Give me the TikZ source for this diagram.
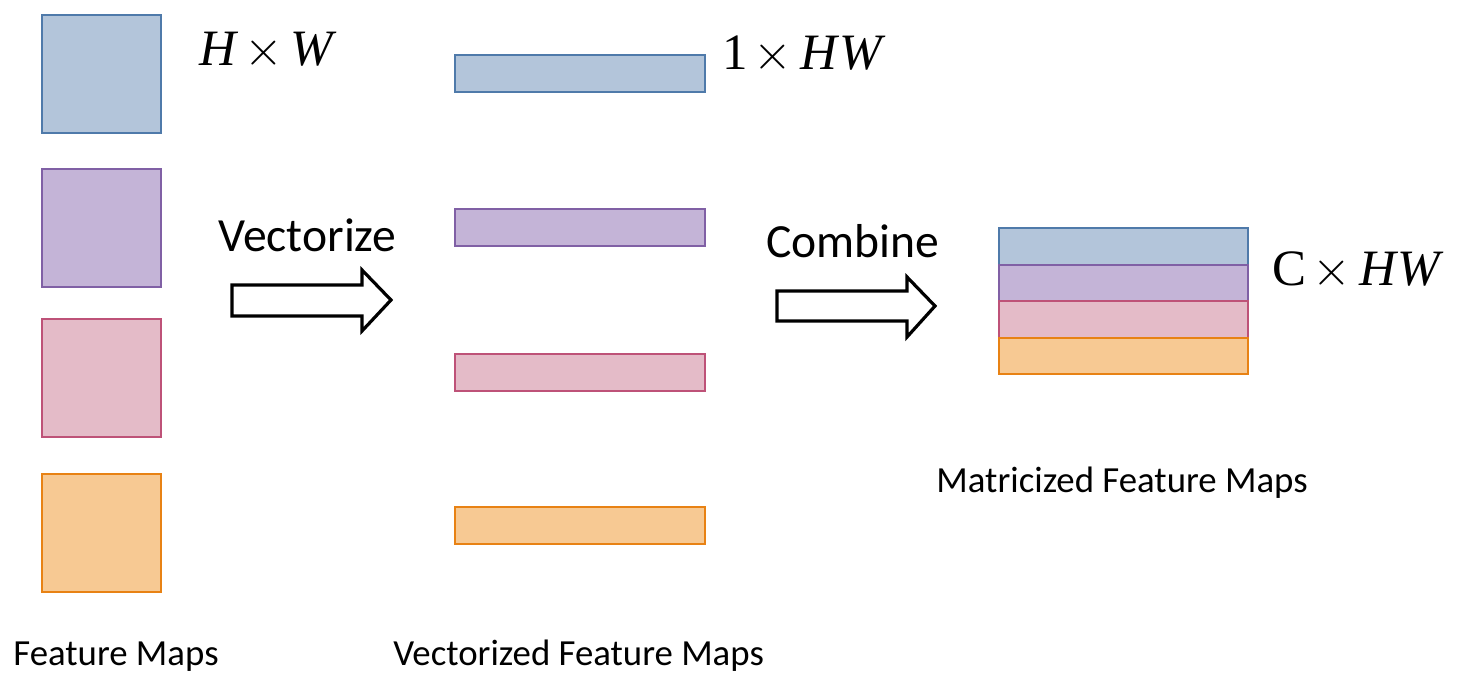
\documentclass[tikz,border=0pt]{standalone}
\usepackage{fontspec}
\setmainfont{Carlito}
\newfontfamily\tms{Liberation Serif}
\newcommand{\tx}{\ensuremath{\times}}
\begin{document}
\begin{tikzpicture}[x=0.5pt,y=-0.5pt,
  bx/.style 2 args={draw=#1, fill=#2, line width=1pt, inner sep=0pt, rectangle},
  sq/.style={minimum width=59.5pt, minimum height=59pt},
  bar/.style={minimum width=125pt, minimum height=18.5pt},
  row/.style={minimum width=124.5pt, minimum height=18.25pt},
  lbl/.style={inner sep=0pt, anchor=base west, font=\fontsize{18.4pt}{20pt}\selectfont},
  big/.style={inner sep=0pt, anchor=base west, font=\fontsize{23.8pt}{26pt}\selectfont},
  mth/.style={inner sep=0pt, anchor=base west, font=\fontsize{25.5pt}{28pt}\selectfont\tms},
  fat/.style={draw=black, fill=white, line width=1.6pt, line join=miter}]
\definecolor{bF}{RGB}{179,197,218}\definecolor{bD}{RGB}{79,122,170}
\definecolor{pF}{RGB}{196,180,215}\definecolor{pD}{RGB}{128,96,165}
\definecolor{rF}{RGB}{228,187,200}\definecolor{rD}{RGB}{190,82,120}
\definecolor{oF}{RGB}{247,201,147}\definecolor{oD}{RGB}{232,130,20}
\useasboundingbox (0,0) rectangle (1459,674);
% feature maps
\node[bx={bD}{bF}, sq] (s1) at (101.5,74) {};
\node[bx={pD}{pF}, sq] (s2) at (101.5,228) {};
\node[bx={rD}{rF}, sq] (s3) at (101.5,377.5) {};
\node[bx={oD}{oF}, sq] (s4) at (101.5,532.5) {};
% vectors
\node[bx={bD}{bF}, bar] (v1) at (580,74) {};
\node[bx={pD}{pF}, bar] (v2) at (580,227.5) {};
\node[bx={rD}{rF}, bar] (v3) at (580,372.5) {};
\node[bx={oD}{oF}, bar] (v4) at (580,525) {};
% matrix
\node[bx={bD}{bF}, row] (m1) at (1123.5,246.25) {};
\node[bx={pD}{pF}, row] (m2) at (1123.5,282.75) {};
\node[bx={rD}{rF}, row] (m3) at (1123.5,319.25) {};
\node[bx={oD}{oF}, row] (m4) at (1123.5,355.75) {};
% block arrows
\draw[fat] (232,285) -- (362,285) -- (362,270) -- (391,300) -- (362,331) -- (362,316) -- (232,316) -- cycle;
\draw[fat] (777,291) -- (907,291) -- (907,277) -- (935,306) -- (907,337) -- (907,321) -- (777,321) -- cycle;
% texts
\node[big] (tv) at (218,251) {Vectorize};
\node[big] (tc) at (766,257) {Combine};
\node[mth] (d1) at (199,66) {\itshape H\kern4pt\tx\kern4pt W};
\node[mth] (d2) at (722,69) {1\kern3pt\tx\kern4pt\itshape H\kern1pt W};
\node[mth] (d3) at (1272,285) {C\kern3pt\tx\kern4pt\itshape H\kern1pt W};
\node[lbl] (l1) at (13,665) {Feature Maps};
\node[lbl] (l2) at (393,665) {Vectorized Feature Maps};
\node[lbl] (l3) at (936,492) {Matricized Feature Maps};
\end{tikzpicture}
\end{document}
